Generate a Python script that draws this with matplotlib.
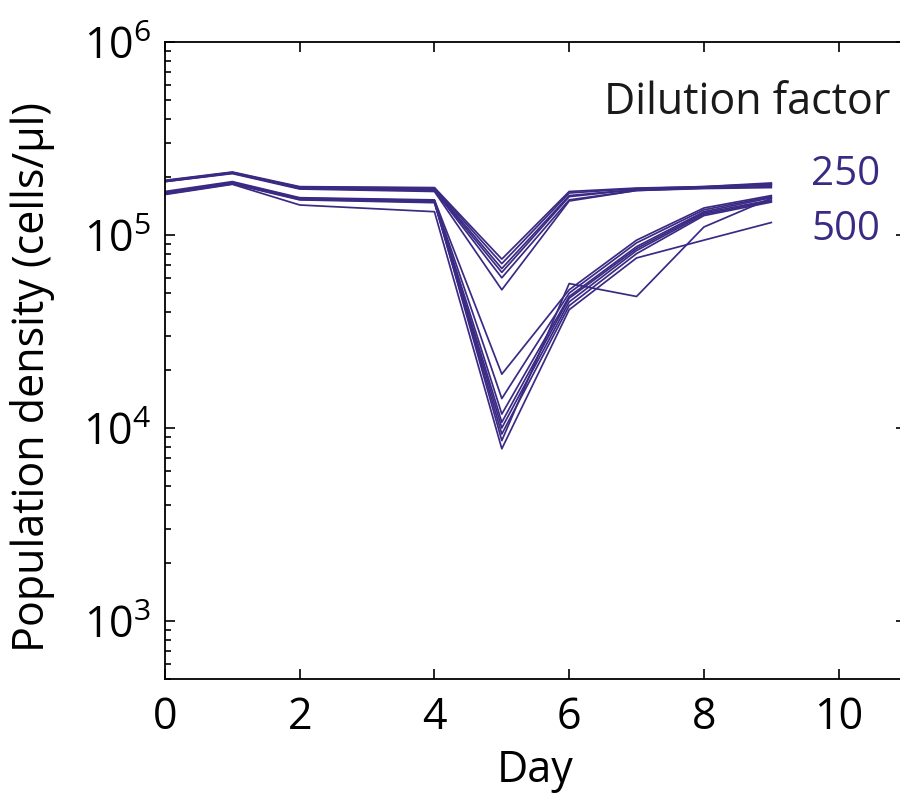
import math
import matplotlib
matplotlib.use("Agg")
import matplotlib.pyplot as plt
from matplotlib.ticker import LogLocator, FixedLocator, NullFormatter, FuncFormatter

plt.rcParams['font.family'] = ['Open Sans', 'DejaVu Sans']
plt.rcParams['mathtext.fontset'] = 'custom'
plt.rcParams['mathtext.rm'] = 'Open Sans'
plt.rcParams['mathtext.it'] = 'Open Sans'

# Measurement days
days = [0, 1, 2, 4, 5, 6, 7, 8, 9]

# Dilution factor 250 (cells/ul)
d250 = [
    [192e3, 212e3, 178e3, 176e3, 75e3, 168e3, 175e3, 178e3, 186e3],
    [190e3, 210e3, 177e3, 175e3, 71e3, 165e3, 174e3, 178e3, 184e3],
    [191e3, 211e3, 176e3, 173e3, 67e3, 160e3, 172e3, 177e3, 183e3],
    [189e3, 209e3, 175e3, 171e3, 64e3, 158e3, 172e3, 176e3, 181e3],
    [190e3, 210e3, 174e3, 170e3, 60e3, 152e3, 170e3, 175e3, 178e3],
    [189e3, 208e3, 173e3, 168e3, 52e3, 150e3, 170e3, 174e3, 176e3],
]

# Dilution factor 500 (cells/ul)
d500 = [
    [168e3, 189e3, 156e3, 152e3, 19.0e3, 52e3, 94e3, 138e3, 160e3],
    [166e3, 187e3, 155e3, 151e3, 14.2e3, 50e3, 91e3, 135e3, 158e3],
    [165e3, 186e3, 154e3, 150e3, 11.8e3, 48e3, 87e3, 132e3, 156e3],
    [164e3, 186e3, 154e3, 149e3, 10.7e3, 47e3, 85e3, 130e3, 152e3],
    [165e3, 185e3, 153e3, 148e3, 10.0e3, 45e3, 83e3, 128e3, 150e3],
    [163e3, 184e3, 152e3, 147e3, 9.3e3, 43e3, 80e3, 126e3, 148e3],
    [165e3, 186e3, 153e3, 150e3, 8.6e3, 56e3, 48e3, 110e3, 155e3],
    [162e3, 183e3, 143e3, 132e3, 7.8e3, 41e3, 76e3, 94e3, 116e3],
]

factor_labels = ["250", "500"]
xticks = [0, 2, 4, 6, 8, 10]
yticks = [1e3, 1e4, 1e5, 1e6]

purple = '#3b2a84'

fig = plt.figure(figsize=(9, 7.97), dpi=100)
ax = fig.add_axes([165/900, 118/797, 741/900, 637/797])

for s in d250 + d500:
    ax.plot(days, s, color=purple, lw=1.25)

ax.set_yscale('log')
ax.set_xlim(0, 11)
ax.set_ylim(500, 1e6)
ax.xaxis.set_major_locator(FixedLocator(xticks))
ax.yaxis.set_major_locator(FixedLocator(yticks))
ax.yaxis.set_minor_locator(LogLocator(base=10, subs=range(2, 10), numticks=20))
ax.yaxis.set_minor_formatter(NullFormatter())
ax.yaxis.set_major_formatter(FuncFormatter(lambda v, p: r'$\mathregular{10^{%d}}$' % round(math.log10(v))))

ax.tick_params(which='both', direction='in', top=True, right=True, width=1.2, labelsize=31, colors='black')
ax.tick_params(which='major', length=7)
ax.tick_params(which='minor', length=4)
ax.tick_params(axis='x', pad=12)
ax.tick_params(axis='y', pad=10)
for sp in ax.spines.values():
    sp.set_linewidth(1.3)
ax.spines['right'].set_visible(False)

ax.set_xlabel('Day', fontsize=31, labelpad=6)
fig.text(33/900, 1 - 377/797, 'Population density (cells/\u03bcl)', rotation=90,
         ha='center', va='center', fontsize=31)

fig.text(890/900, 1 - 103/797, 'Dilution factor', ha='right', va='center', fontsize=31, color='#1a1a1a')
fig.text(880/900, 1 - 175/797, factor_labels[0], ha='right', va='center', fontsize=29, color=purple)
fig.text(880/900, 1 - 230/797, factor_labels[1], ha='right', va='center', fontsize=29, color=purple)

fig.savefig('out.png', dpi=100)
